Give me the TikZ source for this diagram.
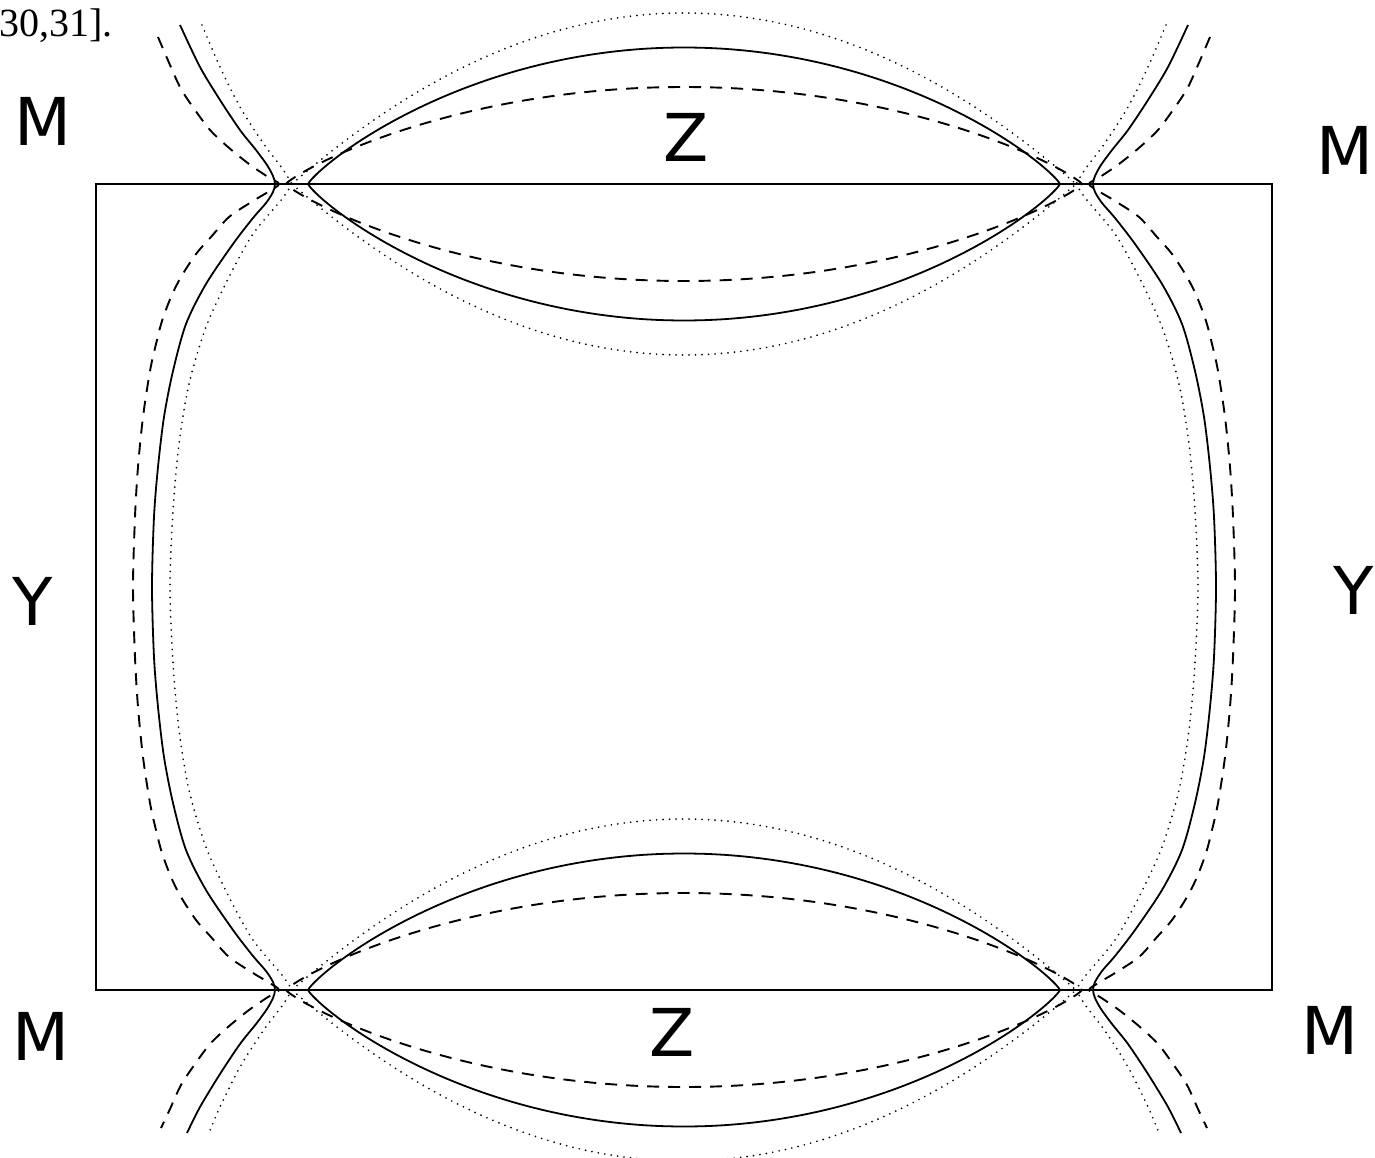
\documentclass[tikz,border=0pt]{standalone}
\usepackage{fontspec}
\setmainfont{Liberation Serif}
\newfontfamily\labelfont{DejaVu Sans}

\begin{document}
\begin{tikzpicture}[
  x=1pt, y=-1pt,
  sym/.style={font=\labelfont\fontsize{66}{70}\selectfont, inner sep=0pt},
  zone/.style={line width=1.8pt},
  sld/.style={line width=1.8pt},
  dsh/.style={line width=1.9pt, dash pattern=on 12pt off 9pt},
  dtt/.style={line width=1.9pt, line cap=round, dash pattern=on 0pt off 6.5pt},
]
\useasboundingbox (0,0) rectangle (1375,1158);
% Zone boundary
\draw[zone] (96,184) rectangle (1272,990);
% Barrel round the centre with its open branches (left, then mirrored right)
\foreach \ox/\sx in {0/1, 1368/-1}{
  \begin{scope}[shift={(\ox,0)}, xscale=\sx]
    \draw[sld] plot[smooth] coordinates {(180,25) (200,67) (220,100) (240,130) (256,150)
      (267,165) (273,176) (275,184) (273,192) (266,203) (253,218) (233,244) (206,284)
      (186,324) (173,371) (164,417) (158,467) (154,517) (152,587) (154,657) (158,707)
      (164,757) (173,803) (186,850) (206,890) (233,930) (253,956) (266,971) (273,982)
      (275,990) (273,998) (267,1009) (256,1024) (240,1044) (220,1074) (200,1107) (187,1133)};
    \draw[dsh] plot[smooth] coordinates {(158,37) (170,65) (181,89) (195,110) (210,130)
      (228,147) (249,164) (268,177) (279,184) (268,192) (253,201) (229,217) (211,237)
      (196,254) (181,277) (171,297) (162,321) (156,344) (150,371) (143,417) (138,467)
      (135,517) (133,587) (135,657) (138,707) (143,757) (150,803) (156,830) (162,853)
      (171,877) (181,897) (196,920) (211,937) (229,957) (253,973) (268,982) (279,990)
      (268,997) (249,1010) (228,1027) (210,1044) (195,1064) (181,1085) (170,1109) (161,1128)};
    \draw[dtt] plot[smooth] coordinates {(202,25) (220,67) (240,107) (263,143) (282,168) (292,184)};
    \draw[dtt] plot[smooth] coordinates {(292,184) (282,199) (253,234) (229,277) (206,327)
      (189,384) (179,444) (173,511) (170,587) (173,663) (179,730) (189,790) (206,847)
      (229,897) (253,940) (282,975) (292,990)};
    \draw[dtt] plot[smooth] coordinates {(292,990) (282,1006) (263,1031) (240,1067) (220,1107) (209,1133)};
  \end{scope}
}
% Lens pockets round Z (top, then mirrored bottom)
\foreach \oy/\sy in {0/1, 1174/-1}{
  \begin{scope}[shift={(0,\oy)}, yscale=\sy]
    \draw[sld] plot[domain=0:360, samples=241, variable=\t]
      ({684-376*cos(\t)}, {184-136.5*sin(\t)*pow(max(abs(sin(\t)),0.0001),0.7)}) -- cycle;
    \draw[dsh] plot[domain=0:360, samples=241, variable=\t]
      ({684-398*cos(\t)}, {184-97*sin(\t)*pow(max(abs(sin(\t)),0.0001),0.7)}) -- cycle;
    \draw[dtt] plot[domain=0:360, samples=241, variable=\t]
      ({684-392*cos(\t)}, {184-171*sin(\t)*abs(sin(\t))}) -- cycle;
  \end{scope}
}
% Symmetry points
\node[sym] (mtl) at (43,121)   {M};
\node[sym] (mtr) at (1345,150) {M};
\node[sym] (mbl) at (41,1036)  {M};
\node[sym] (mbr) at (1330,1030) {M};
\node[sym] (yl)  at (33,601)   {Y};
\node[sym] (yr)  at (1354,590) {Y};
\node[sym] (zt)  at (686,137)  {Z};
\node[sym] (zb)  at (672,1032) {Z};
% Cut-off reference above the figure
\node[anchor=base west, inner sep=0pt, font=\fontsize{40}{44}\selectfont] (cite) at (-1,37) {30,31].};
\end{tikzpicture}
\end{document}
